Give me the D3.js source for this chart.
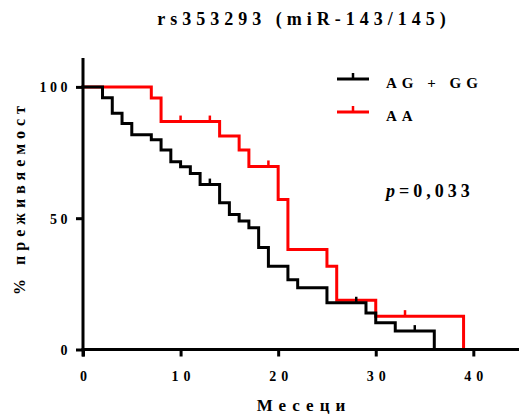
<!DOCTYPE html>
<html>
<head>
<meta charset="utf-8">
<script src="https://cdn.jsdelivr.net/npm/d3@7"></script>
<style>
  html, body { margin: 0; padding: 0; background: #fff; }
  svg { display: block; }
  text { font-family: "Liberation Serif", "Times New Roman", serif; font-weight: bold; fill: #000; }
</style>
</head>
<body>
<svg id="chart" width="519" height="417"></svg>
<script>
// ---- data ----
const chartTitle = "rs353293 (miR-143/145)";
const xTitle = "Месеци";
const yTitle = "% преживяемост";
const seriesNames = ["AG + GG", "AA"];
const seriesColors = ["#000000", "#ff0000"];

const blackTimes = [0, 2, 3, 4, 5, 7, 8, 9, 10, 11, 12, 14, 15, 16, 17, 18, 19, 21, 22, 25, 29, 30, 32, 36];
const blackSurv  = [100, 95.9, 90.0, 86.1, 81.8, 79.9, 76.0, 71.5, 69.6, 67.0, 62.8, 55.9, 51.4, 48.9, 46.4, 38.8, 31.7, 26.6, 23.5, 17.8, 13.9, 10.2, 7.0, 0];
const blackCensor = [13, 28, 34];

const redTimes = [0, 7, 8, 14, 16, 17, 20, 21, 25, 26, 30, 39];
const redSurv  = [100, 95.8, 86.8, 81.3, 76.0, 69.7, 57.1, 38.1, 31.7, 18.8, 12.7, 0];
const redCensor = [10, 13, 19, 33];

const xTicks = [0, 10, 20, 30, 40];
const yTicks = [0, 50, 100];
const pText = ["p", "=0,033"];

// ---- drawing ----
const svg = d3.select("#chart");
const x = d3.scaleLinear().domain([0, 44.65]).range([83, 518.7]);
const y = d3.scaleLinear().domain([0, 111]).range([349.5, 58]);

function survAt(times, surv, t) {
  let v = surv[0];
  for (let i = 0; i < times.length; i++) if (times[i] <= t) v = surv[i];
  return v;
}

const line = d3.line().x(d => x(d[0])).y(d => y(d[1])).curve(d3.curveStepAfter);

const series = [
  { times: redTimes, surv: redSurv, censor: redCensor, color: seriesColors[1] },
  { times: blackTimes, surv: blackSurv, censor: blackCensor, color: seriesColors[0] }
];

series.forEach(s => {
  const pts = s.times.map((t, i) => [t, s.surv[i]]);
  svg.append("path")
    .attr("d", line(pts))
    .attr("fill", "none")
    .attr("stroke", s.color)
    .attr("stroke-width", 3)
    .attr("stroke-linejoin", "miter")
    .attr("stroke-linecap", "square");
  svg.selectAll(null).data(s.censor).enter().append("line")
    .attr("x1", d => x(d)).attr("x2", d => x(d))
    .attr("y1", d => y(survAt(s.times, s.surv, d)))
    .attr("y2", d => y(survAt(s.times, s.surv, d)) - 6)
    .attr("stroke", s.color)
    .attr("stroke-width", 2.5);
});

// axes
const xAxis = d3.axisBottom(x).tickValues(xTicks).tickSize(7).tickSizeOuter(0).tickPadding(8).tickFormat(d3.format("d"));
const gx = svg.append("g").attr("transform", `translate(0,${y(0)})`).call(xAxis);
gx.select(".domain").attr("stroke-width", 3).attr("d", `M${x(0) - 1.5},0H519`);
gx.selectAll(".tick line").attr("stroke-width", 3);
gx.selectAll(".tick text")
  .attr("y", 31).attr("dy", null)
  .style("font-family", "'Liberation Serif', serif").style("font-weight", "bold")
  .style("font-size", "14px").style("letter-spacing", "5px")
  .attr("dx", "2.5px");

const yAxis = d3.axisLeft(y).tickValues(yTicks).tickSize(7).tickSizeOuter(0).tickPadding(8);
const gy = svg.append("g").attr("transform", `translate(${x(0)},0)`).call(yAxis);
gy.select(".domain").attr("stroke-width", 3).attr("d", `M0,${y(111)}V${y(0) + 7}`);
gy.selectAll(".tick line").attr("stroke-width", 3);
gy.selectAll(".tick text")
  .attr("x", -12).attr("dy", "0.36em")
  .style("font-family", "'Liberation Serif', serif").style("font-weight", "bold")
  .style("font-size", "14px").style("letter-spacing", "3.5px");

// title
svg.append("text").attr("x", 304).attr("y", 25).attr("text-anchor", "middle")
  .style("font-size", "18px").style("letter-spacing", "5px").text(chartTitle);

// axis titles
svg.append("text").attr("x", 304).attr("y", 411).attr("text-anchor", "middle")
  .style("font-size", "17px").style("letter-spacing", "6px").text(xTitle);
svg.append("text").attr("transform", "translate(25,198) rotate(-90)").attr("text-anchor", "middle")
  .style("font-size", "16px").style("letter-spacing", "5px").text(yTitle);

// legend
const legendY = [79, 112];
[0, 1].forEach(i => {
  const ly = legendY[i];
  svg.append("line").attr("x1", 337).attr("x2", 369).attr("y1", ly).attr("y2", ly)
    .attr("stroke", seriesColors[i]).attr("stroke-width", 3);
  svg.append("line").attr("x1", 353).attr("x2", 353).attr("y1", ly).attr("y2", ly - 6)
    .attr("stroke", seriesColors[i]).attr("stroke-width", 2.5);
  svg.append("text").attr("x", 386).attr("y", ly + 9)
    .style("font-size", "15px").style("letter-spacing", "5px")
    .style("white-space", "pre").text(seriesNames[i]);
});

// p-value
const pt = svg.append("text").attr("x", 386).attr("y", 197).style("font-size", "18px").style("letter-spacing", "4px");
pt.append("tspan").style("font-style", "italic").text(pText[0]);
pt.append("tspan").text(pText[1]);
</script>
</body>
</html>
